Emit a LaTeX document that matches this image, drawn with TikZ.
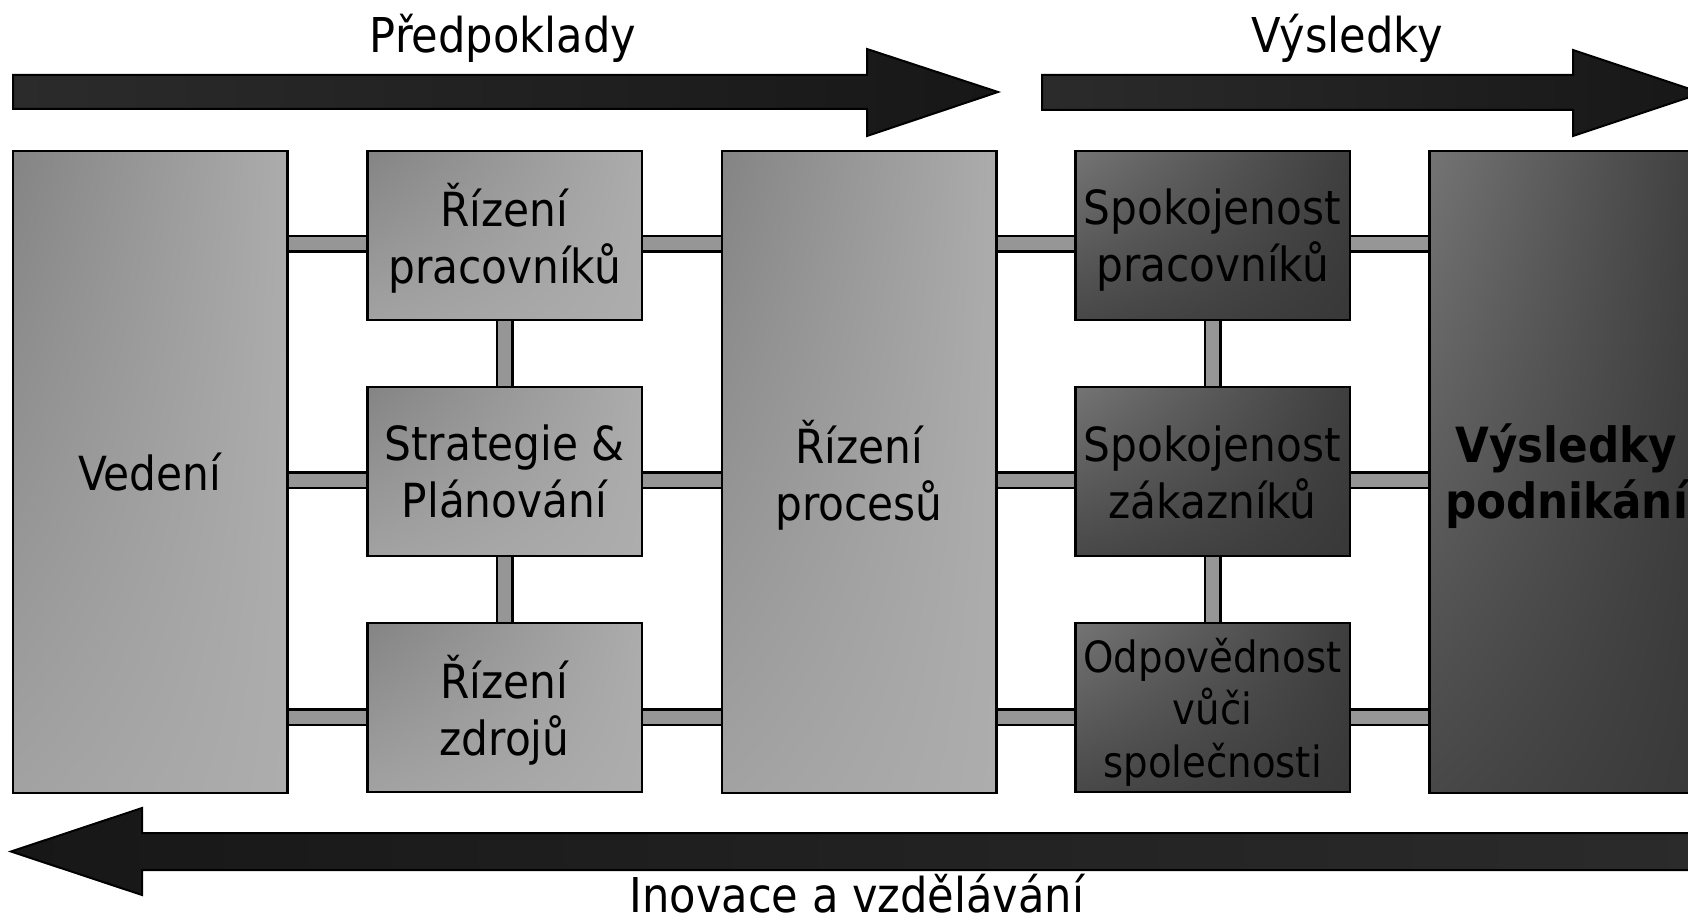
\documentclass[tikz,border=0pt]{standalone}
\usepackage{fontspec}
\setmainfont{DejaVu Sans Condensed}
\usetikzlibrary{shadings,backgrounds}
\pgfdeclarelayer{bg}
\pgfsetlayers{bg,background,main}
\definecolor{lUL}{HTML}{848484}
\definecolor{lUR}{HTML}{ACACAC}
\definecolor{lLL}{HTML}{A2A2A2}
\definecolor{lLR}{HTML}{ADADAD}
\definecolor{dUL}{HTML}{747474}
\definecolor{dUR}{HTML}{3E3E3E}
\definecolor{dLL}{HTML}{484848}
\definecolor{dLR}{HTML}{383838}
\definecolor{conngray}{HTML}{969696}
\definecolor{arrLight}{HTML}{2B2B2B}
\definecolor{arrDark}{HTML}{171717}
\begin{document}
\begin{tikzpicture}[x=1pt,y=-1pt,
  box/.style={draw=black, line width=2.5pt, inner sep=0pt, minimum width=274.5pt},
  lbox/.style={box, upper left=lUL, upper right=lUR, lower left=lLL, lower right=lLR},
  dbox/.style={box, upper left=dUL, upper right=dUR, lower left=dLL, lower right=dLR},
  cell/.style={minimum height=169pt},
  tall/.style={minimum height=642pt},
  txt/.style={font=\fontsize{47}{57}\selectfont, align=center, inner sep=0pt},
  txtthree/.style={font=\fontsize{43}{52.5}\selectfont, align=center, inner sep=0pt},
  txtbold/.style={font=\fontsize{48.5}{54}\selectfont\bfseries, align=center, inner sep=0pt},
  lab/.style={font=\fontsize{48}{58}\selectfont, inner sep=0pt, anchor=base},
  conn/.style={draw=black, line width=2.5pt, double=conngray, double distance=13pt},
  arrfwd/.style={draw=black, line width=2pt, left color=arrLight, right color=arrDark},
  arrback/.style={draw=black, line width=2pt, left color=arrDark, right color=arrLight}
]
\begin{pgfonlayer}{bg}
  \fill[white] (0,0) rectangle (1688,917);
\end{pgfonlayer}
\useasboundingbox (0,0) rectangle (1688,917);
\clip (0,0) rectangle (1688,917);

% arrows
\path[arrfwd] (13,75) -- (867,75) -- (867,49) -- (998,92) -- (867,136) -- (867,109) -- (13,109) -- cycle;
\path[arrfwd] (1042,75) -- (1573,75) -- (1573,50) -- (1702,93) -- (1573,136) -- (1573,110) -- (1042,110) -- cycle;
\path[arrback] (1710,833) -- (142,833) -- (142,808) -- (11,851.5) -- (142,895) -- (142,870) -- (1710,870) -- cycle;

\node[lab] (lPred) at (503,53) {Předpoklady};
\node[lab] (lVys) at (1347,53) {Výsledky};
\node[lab] (lIno) at (857,912) {Inovace a vzdělávání};

% boxes
\node[lbox, tall] (vedeni) at (150,472) {};
\node[lbox, cell] (rp) at (504.5,235.5) {};
\node[lbox, cell] (sp) at (504.5,471.5) {};
\node[lbox, cell] (rz) at (504.5,707.5) {};
\node[lbox, tall] (proc) at (859,472) {};
\node[dbox, cell] (spp) at (1212.5,235.5) {};
\node[dbox, cell] (spz) at (1212.5,471.5) {};
\node[dbox, cell] (odp) at (1212.5,707.5) {};
\node[dbox, tall] (vys) at (1566.5,472) {};

% texts
\node[txt] (tVed) at ([yshift=-7.5pt]vedeni.center) {\strut Vedení\strut};
\node[txt] (tRp) at ([yshift=-6pt]rp.center) {\strut Řízení\\pracovníků\strut};
\node[txt] (tSp) at ([yshift=-6.5pt]sp.center) {\strut Strategie \&\\Plánování\strut};
\node[txt] (tRz) at ([yshift=-6pt]rz.center) {\strut Řízení\\zdrojů\strut};
\node[txt] (tProc) at ([yshift=-7pt]proc.center) {\strut Řízení\\procesů\strut};
\node[txt] (tSpp) at ([yshift=-6pt]spp.center) {\strut Spokojenost\\pracovníků\strut};
\node[txt] (tSpz) at ([yshift=-7pt]spz.center) {\strut Spokojenost\\zákazníků\strut};
\node[txtthree] (tOdp) at ([yshift=-6.5pt]odp.center) {\strut Odpovědnost\\vůči\\společnosti\strut};
\node[txtbold] (tVys) at ([yshift=-7pt]vys.center) {\strut Výsledky\\podnikání\strut};

% connectors
\coordinate (ya) at (0,244);
\coordinate (yb) at (0,480);
\coordinate (yc) at (0,717);
\begin{scope}[on background layer]
  \foreach \r in {ya,yb,yc}{
    \draw[conn] (vedeni.east |- \r) -- (rp.west |- \r);
    \draw[conn] (rp.east |- \r) -- (proc.west |- \r);
    \draw[conn] (proc.east |- \r) -- (spp.west |- \r);
    \draw[conn] (spp.east |- \r) -- (vys.west |- \r);
  }
  \draw[conn] (rp.south) -- (sp.north);
  \draw[conn] (sp.south) -- (rz.north);
  \draw[conn] (spp.south) -- (spz.north);
  \draw[conn] (spz.south) -- (odp.north);
\end{scope}
\end{tikzpicture}
\end{document}
